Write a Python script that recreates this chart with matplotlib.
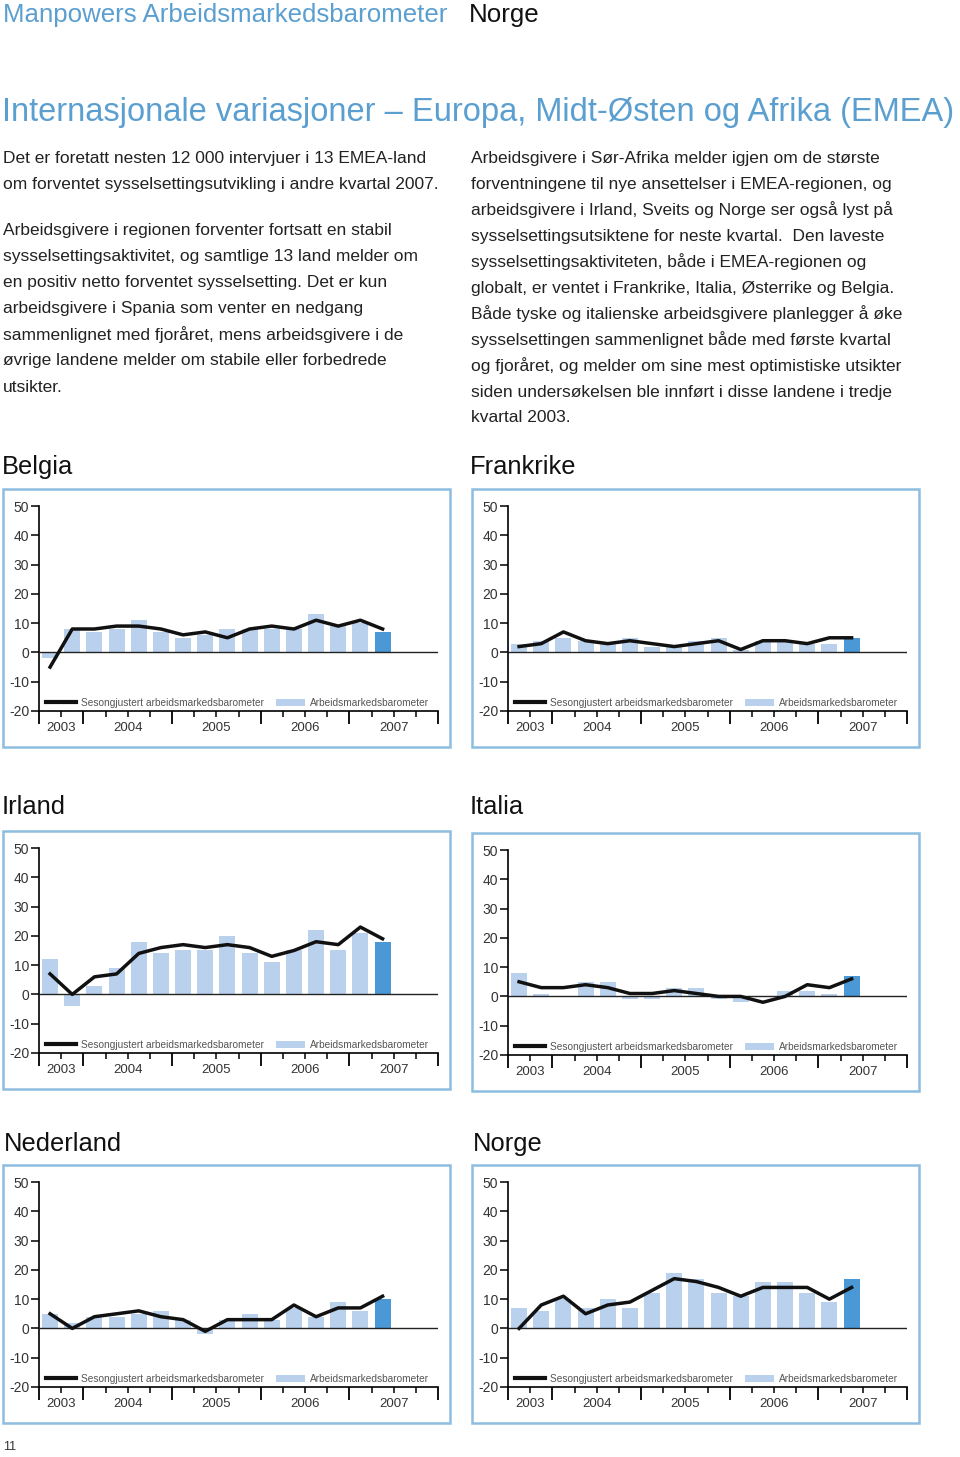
import numpy as np
import matplotlib
matplotlib.use('Agg')
import matplotlib.pyplot as plt
from matplotlib.patches import Rectangle, Patch
from matplotlib.lines import Line2D

plt.rcParams['font.family'] = ['Liberation Sans', 'DejaVu Sans']

# Data (netto forventet sysselsetting, 2003 K3 - 2007 K2)
aar = ['2003', '2004', '2005', '2006', '2007']
aar_midt = [0.5, 3.5, 7.5, 11.5, 15.5]

belgia_bar = [-2, 8, 7, 8, 11, 7, 5, 6, 8, 8, 8, 8, 13, 9, 10, 7]
belgia_linje = [-5, 8, 8, 9, 9, 8, 6, 7, 5, 8, 9, 8, 11, 9, 11, 8]
frankrike_bar = [3, 4, 5, 4, 3, 5, 2, 2, 4, 5, 1, 4, 4, 3, 3, 5]
frankrike_linje = [2, 3, 7, 4, 3, 4, 3, 2, 3, 4, 1, 4, 4, 3, 5, 5]
irland_bar = [12, -4, 3, 9, 18, 14, 15, 15, 20, 14, 11, 15, 22, 15, 21, 18]
irland_linje = [7, 0, 6, 7, 14, 16, 17, 16, 17, 16, 13, 15, 18, 17, 23, 19]
italia_bar = [8, 1, 0, 5, 5, -1, -1, 3, 3, -1, -2, 0, 2, 2, 1, 7]
italia_linje = [5, 3, 3, 4, 3, 1, 1, 2, 1, 0, 0, -2, 0, 4, 3, 6]
nederland_bar = [5, 2, 4, 4, 5, 6, 3, -2, 3, 5, 3, 7, 4, 9, 6, 10]
nederland_linje = [5, 0, 4, 5, 6, 4, 3, -1, 3, 3, 3, 8, 4, 7, 7, 11]
norge_bar = [7, 6, 10, 7, 10, 7, 12, 19, 17, 12, 11, 16, 16, 12, 9, 17]
norge_linje = [0, 8, 11, 5, 8, 9, 13, 17, 16, 14, 11, 14, 14, 14, 10, 14]

venstre_tekst = [
    "Det er foretatt nesten 12 000 intervjuer i 13 EMEA-land",
    "om forventet sysselsettingsutvikling i andre kvartal 2007.",
    "Arbeidsgivere i regionen forventer fortsatt en stabil",
    "sysselsettingsaktivitet, og samtlige 13 land melder om",
    "en positiv netto forventet sysselsetting. Det er kun",
    "arbeidsgivere i Spania som venter en nedgang",
    "sammenlignet med fjoråret, mens arbeidsgivere i de",
    "øvrige landene melder om stabile eller forbedrede",
    "utsikter.",
]
venstre_y = [158, 184, 231, 257, 283, 309, 335, 361, 387]

hoyre_tekst = [
    "Arbeidsgivere i Sør-Afrika melder igjen om de største",
    "forventningene til nye ansettelser i EMEA-regionen, og",
    "arbeidsgivere i Irland, Sveits og Norge ser også lyst på",
    "sysselsettingsutsiktene for neste kvartal.  Den laveste",
    "sysselsettingsaktiviteten, både i EMEA-regionen og",
    "globalt, er ventet i Frankrike, Italia, Østerrike og Belgia.",
    "Både tyske og italienske arbeidsgivere planlegger å øke",
    "sysselsettingen sammenlignet både med første kvartal",
    "og fjoråret, og melder om sine mest optimistiske utsikter",
    "siden undersøkelsen ble innført i disse landene i tredje",
    "kvartal 2003.",
]

BLA = '#5b9fd0'
LYS = '#b9d1ed'
MORK = '#4a98d6'
RAMME = '#8dbde0'

W, H = 960, 1457
fig = plt.figure(figsize=(W / 100, H / 100), dpi=100)


def px(x, y):
    return x / W, 1 - y / H


def tegn_diagram(navn, fx, fy, hx, hy, bars, linje):
    # ramme
    fig.patches.append(Rectangle(px(fx, fy + 258), 447 / W, 258 / H,
                                 transform=fig.transFigure, fill=False,
                                 edgecolor=RAMME, lw=1.8))
    fig.text(*px(hx, hy + 2), navn, fontsize=18.4, va='center', ha='left', color='#111')

    left, bottom = px(fx + 36, fy + 222)
    ax = fig.add_axes([left, bottom, 399 / W, 205 / H])
    x = np.arange(len(bars))
    farger = [LYS] * (len(bars) - 1) + [MORK]
    ax.bar(x, bars, width=0.72, color=farger, zorder=2)
    ax.axhline(0, color='#222', lw=1.0, zorder=3)
    ax.plot(x, linje, color='#111', lw=2.5, zorder=4)

    ax.set_xlim(-0.5, 17.5)
    ax.set_ylim(-20, 50)
    ax.set_yticks(range(-20, 51, 10))
    ax.set_yticklabels([str(v) for v in range(-20, 51, 10)])
    for s in ['top', 'right']:
        ax.spines[s].set_visible(False)
    ax.spines['left'].set_linewidth(1.2)
    ax.spines['bottom'].set_linewidth(1.2)
    ax.tick_params(axis='y', length=6, width=1.1, pad=1, labelsize=10, labelcolor='#333')
    ax.set_xticks([-0.5, 1.5, 5.5, 9.5, 13.5, 17.5])
    ax.set_xticks([0.5, 2.5, 3.5, 4.5, 6.5, 7.5, 8.5, 10.5, 11.5, 12.5,
                   14.5, 15.5, 16.5], minor=True)
    ax.tick_params(axis='x', which='major', length=9, width=1.3, labelbottom=False)
    ax.tick_params(axis='x', which='minor', length=4.5, width=1.1)
    for navn_aar, xm in zip(aar, aar_midt):
        ax.text(xm, -0.085, navn_aar, transform=ax.get_xaxis_transform(),
                ha='center', va='center', fontsize=9.5, color='#333')

    handles = [Line2D([], [], color='#111', lw=3),
               Patch(facecolor=LYS, edgecolor='none')]
    ax.legend(handles, ['Sesongjustert arbeidsmarkedsbarometer', 'Arbeidsmarkedsbarometer'],
              ncol=2, loc='lower left', bbox_to_anchor=(0.0, -0.02), frameon=False,
              fontsize=7.3, handlelength=2.9, handletextpad=0.5, columnspacing=1.2,
              labelcolor='#555', borderaxespad=0.3)
    return ax


# overskrifter
fig.text(*px(3, 15), "Manpowers Arbeidsmarkedsbarometer", fontsize=18.6, color=BLA,
         va='center', ha='left')
fig.text(*px(469, 15), "Norge", fontsize=18.6, color='#111', va='center', ha='left')
fig.text(*px(2, 113), "Internasjonale variasjoner – Europa, Midt-Østen og Afrika (EMEA)",
         fontsize=23.5, color=BLA, va='center', ha='left')

for linje, y in zip(venstre_tekst, venstre_y):
    fig.text(*px(3, y), linje, fontsize=12.5, color='#222', va='center', ha='left')
for i, linje in enumerate(hoyre_tekst):
    fig.text(*px(471, 158 + 26 * i), linje, fontsize=12.5, color='#222', va='center', ha='left')

tegn_diagram('Belgia', 3, 489, 2, 465, belgia_bar, belgia_linje)
tegn_diagram('Frankrike', 472, 489, 470, 465, frankrike_bar, frankrike_linje)
tegn_diagram('Irland', 3, 831, 2, 805, irland_bar, irland_linje)
tegn_diagram('Italia', 472, 833, 470, 805, italia_bar, italia_linje)
tegn_diagram('Nederland', 3, 1165, 4, 1142, nederland_bar, nederland_linje)
tegn_diagram('Norge', 472, 1165, 473, 1142, norge_bar, norge_linje)

fig.text(*px(3, 1447), "11", fontsize=9, color='#333', va='center', ha='left')

fig.savefig('out.png', dpi=100)
